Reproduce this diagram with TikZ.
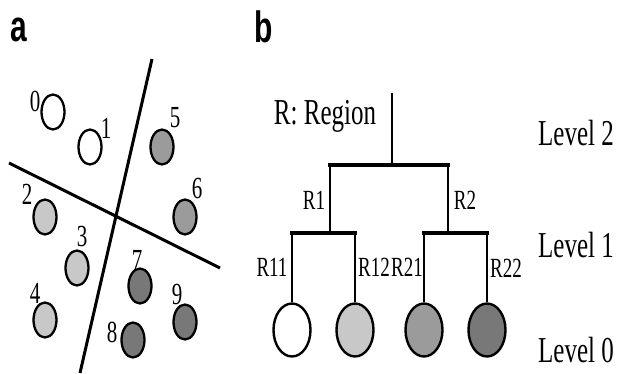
\documentclass[tikz,border=0pt]{standalone}
\usepackage{fontspec}
\setmainfont{Liberation Serif}
\newfontfamily\panelfont{Liberation Sans}
\usetikzlibrary{shapes.geometric}
\newcommand{\vstretch}[1]{\scalebox{1}[1.46]{#1}}
\definecolor{lightg}{RGB}{200,200,200}
\definecolor{midg}{RGB}{155,155,155}
\definecolor{darkg}{RGB}{120,120,120}
\tikzset{
  dot/.style={draw=black, line width=2.3pt, ellipse, inner sep=0pt, minimum width=23pt, minimum height=35pt},
  leaf/.style={draw=black, line width=2.4pt, ellipse, inner sep=0pt, minimum width=37pt, minimum height=53pt},
  num/.style={inner sep=0pt, font=\fontsize{21}{21}\selectfont},
  lab/.style={inner sep=0pt, font=\fontsize{19}{19}\selectfont},
  big/.style={inner sep=0pt, font=\fontsize{25}{25}\selectfont},
  panel/.style={inner sep=0pt, font=\panelfont\bfseries\fontsize{30}{30}\selectfont},
  vwire/.style={line width=2.6pt},
  hwire/.style={line width=3.8pt, line cap=rect},
  sep/.style={line width=3pt}
}
\begin{document}
\begin{tikzpicture}[x=1pt,y=-1pt]
\useasboundingbox[fill=white] (0,0) rectangle (618,374);
% panel labels
\node[panel] (pa) at (19,30) {\vstretch{a}};
\node[panel] (pb) at (264,27) {\vstretch{b}};
% panel a separating lines
\coordinate (s1a) at (152,59);
\coordinate (s1b) at (80,373);
\coordinate (s2a) at (9,163);
\coordinate (s2b) at (220,268);
\draw[sep] (s1a) -- (s1b);
\draw[sep] (s2a) -- (s2b);
% panel a dots
\node[dot, fill=white] (c0) at (53,112) {};
\node[dot, fill=white] (c1) at (90,147) {};
\node[dot, fill=midg] (c5) at (162,147) {};
\node[dot, fill=lightg] (c2) at (45,217) {};
\node[dot, fill=midg] (c6) at (185,217) {};
\node[dot, fill=lightg] (c3) at (77,268) {};
\node[dot, fill=darkg] (c7) at (140,286) {};
\node[dot, fill=lightg] (c4) at (45,320) {};
\node[dot, fill=darkg] (c9) at (185,322) {};
\node[dot, fill=darkg] (c8) at (133,340) {};
% digits
\node[num] (n0) at (35,101) {\vstretch{0}};
\node[num] (n1) at (106,128) {\vstretch{1}};
\node[num] (n5) at (175,118) {\vstretch{5}};
\node[num] (n2) at (27,194) {\vstretch{2}};
\node[num] (n6) at (197,188) {\vstretch{6}};
\node[num] (n3) at (82,236) {\vstretch{3}};
\node[num] (n7) at (137,260) {\vstretch{7}};
\node[num] (n4) at (35,293) {\vstretch{4}};
\node[num] (n9) at (177,294) {\vstretch{9}};
\node[num] (n8) at (112,332) {\vstretch{8}};
% panel b tree
\node[big] (region) at (325,116) {\vstretch{R: Region}};
\coordinate (top) at (392,93);
\coordinate (j0) at (392,165);
\coordinate (l1) at (330,165);
\coordinate (r1) at (448,165);
\coordinate (l1b) at (330,233);
\coordinate (r1b) at (448,233);
\coordinate (l11) at (292,233);
\coordinate (l12) at (355,233);
\coordinate (r21) at (424,233);
\coordinate (r22) at (487,233);
\node[leaf, fill=white] (e11) at (292,330) {};
\node[leaf, fill=lightg] (e12) at (355,330) {};
\node[leaf, fill=midg] (e21) at (424,330) {};
\node[leaf, fill=darkg] (e22) at (487,330) {};
\draw[vwire] (top) -- (j0);
\draw[vwire] (l1) -- (l1b);
\draw[vwire] (r1) -- (r1b);
\draw[vwire] (l11) -- (e11.north);
\draw[vwire] (l12) -- (e12.north);
\draw[vwire] (r21) -- (e21.north);
\draw[vwire] (r22) -- (e22.north);
\draw[hwire] (l1) -- (r1);
\draw[hwire] (l11) -- (l12);
\draw[hwire] (r21) -- (r22);
% branch labels
\node[lab] (tR1) at (314,200) {\vstretch{R1}};
\node[lab] (tR2) at (465,200) {\vstretch{R2}};
\node[lab] (tR11) at (272,267) {\vstretch{R11}};
\node[lab] (tR12) at (374,267) {\vstretch{R12}};
\node[lab] (tR21) at (407,267) {\vstretch{R21}};
\node[lab] (tR22) at (506,268) {\vstretch{R22}};
% levels
\node[big] (lv2) at (576,133) {\vstretch{Level 2}};
\node[big] (lv1) at (576,245) {\vstretch{Level 1}};
\node[big] (lv0) at (576,350) {\vstretch{Level 0}};
\end{tikzpicture}
\end{document}
